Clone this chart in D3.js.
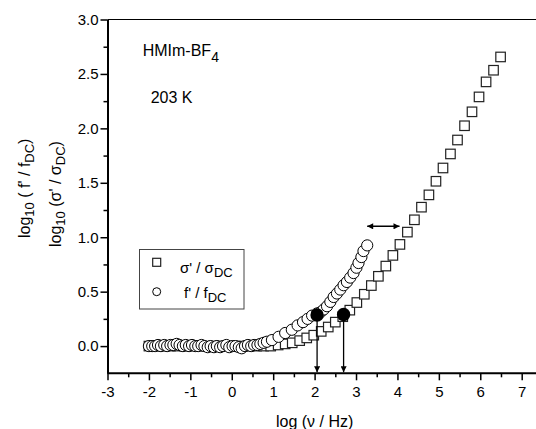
<!DOCTYPE html>
<html>
<head>
<meta charset="utf-8">
<script src="https://cdn.jsdelivr.net/npm/d3@7"></script>
<style>
body { margin: 0; background: #fff; }
svg { font-family: "Liberation Sans", Arial, sans-serif; }
</style>
</head>
<body>
<svg></svg>
<script>
// sigma' / sigma_DC  (squares)
var sigX = [-2.00, -1.83, -1.66, -1.48, -1.31, -1.14, -0.96, -0.79, -0.62, -0.44,
            -0.27, -0.10, 0.08, 0.25, 0.42, 0.60, 0.77, 0.94, 1.12, 1.29,
            1.46, 1.64, 1.81, 1.98, 2.16, 2.33, 2.50, 2.68, 2.85, 3.02,
            3.20, 3.37, 3.54, 3.72, 3.89, 4.06, 4.24, 4.41, 4.58, 4.76,
            4.93, 5.10, 5.28, 5.45, 5.62, 5.80, 5.97, 6.14, 6.32, 6.49];
var sigY = [0.00, 0.00, 0.00, 0.00, 0.00, 0.00, 0.00, 0.00, 0.00, 0.00,
            0.00, 0.00, 0.00, 0.00, 0.00, 0.00, 0.00, 0.00, 0.01, 0.02,
            0.03, 0.05, 0.075, 0.10, 0.135, 0.175, 0.22, 0.27, 0.33, 0.40,
            0.476, 0.556, 0.641, 0.735, 0.833, 0.934, 1.047, 1.160, 1.276, 1.389,
            1.514, 1.636, 1.765, 1.893, 2.024, 2.152, 2.289, 2.427, 2.534, 2.656];

// f' / f_DC  (circles)
var fX = [-2.00, -1.92, -1.85, -1.78, -1.71, -1.63, -1.56, -1.48, -1.41, -1.33,
          -1.26, -1.18, -1.11, -1.03, -0.96, -0.88, -0.81, -0.73, -0.66, -0.58,
          -0.51, -0.43, -0.36, -0.28, -0.21, -0.13, -0.06, 0.02, 0.09, 0.17,
          0.24, 0.32, 0.39, 0.47, 0.54, 0.62, 0.69, 0.77, 0.85, 0.97,
          1.13, 1.29, 1.45, 1.59, 1.72, 1.83, 1.94, 2.06, 2.14, 2.22,
          2.30, 2.38, 2.46, 2.54, 2.62, 2.70, 2.78, 2.86, 2.94, 3.01,
          3.06, 3.13, 3.18, 3.27];
var fY = [0.00, 0.00, 0.00, 0.01, 0.00, 0.01, 0.00, 0.01, 0.01, 0.02,
          0.01, 0.00, 0.01, 0.00, 0.01, 0.00, 0.00, 0.01, 0.00, -0.01,
          0.00, -0.01, 0.00, -0.01, 0.00, 0.01, -0.01, 0.00, 0.00, -0.01,
          -0.02, 0.00, 0.01, 0.00, 0.01, 0.01, 0.02, 0.03, 0.04, 0.055,
          0.085, 0.12, 0.15, 0.19, 0.22, 0.25, 0.28, 0.30, 0.31, 0.336,
          0.366, 0.406, 0.451, 0.483, 0.519, 0.559, 0.589, 0.629, 0.671, 0.72,
          0.763, 0.818, 0.873, 0.925];

// crossover points (filled) and their arrows
var dotX = [2.06, 2.70];
var dotY = [0.285, 0.29];
var spanX = [3.27, 4.05];
var spanY = 1.10;

var xTicks = [-3, -2, -1, 0, 1, 2, 3, 4, 5, 6, 7];
var xMinor = [-2.5, -1.5, -0.5, 0.5, 1.5, 2.5, 3.5, 4.5, 5.5, 6.5];
var yTicks = [0.0, 0.5, 1.0, 1.5, 2.0, 2.5, 3.0];
var yMinor = [0.25, 0.75, 1.25, 1.75, 2.25, 2.75];

var svgWidth = 536, svgHeight = 429;

var svg = d3.select("svg")
    .attr("width", svgWidth)
    .attr("height", svgHeight);

var xScale = d3.scaleLinear().domain([-3, 7]).range([107.5, 521.7]);
var xEnd = 540;
var yScale = d3.scaleLinear().domain([-0.25, 3.0]).range([373.3, 19.5]);

var defs = svg.append("defs");
defs.append("marker")
    .attr("id", "head")
    .attr("viewBox", "0 0 10 10")
    .attr("refX", 10).attr("refY", 5)
    .attr("markerWidth", 7).attr("markerHeight", 6)
    .attr("markerUnits", "userSpaceOnUse")
    .attr("orient", "auto-start-reverse")
    .append("path")
    .attr("d", "M0,0 L10,5 L0,10 Z")
    .attr("fill", "#000");
defs.append("marker")
    .attr("id", "head2")
    .attr("viewBox", "0 0 10 10")
    .attr("refX", 10).attr("refY", 5)
    .attr("markerWidth", 9).attr("markerHeight", 6)
    .attr("markerUnits", "userSpaceOnUse")
    .attr("orient", "auto-start-reverse")
    .append("path")
    .attr("d", "M0,0 L10,5 L0,10 Z")
    .attr("fill", "#000");

// top frame line
svg.append("line")
    .attr("x1", xScale(-3)).attr("x2", xEnd)
    .attr("y1", yScale(3.0)).attr("y2", yScale(3.0))
    .attr("stroke", "#000").attr("stroke-width", 1.2);

// axes
var x_axis = d3.axisBottom(xScale).tickValues(xTicks).tickSize(7).tickSizeOuter(0)
    .tickFormat(function(d) { return String(d); });
var gx = svg.append("g")
    .attr("transform", "translate(0," + yScale(-0.25) + ")")
    .call(x_axis);
gx.select(".domain").attr("d", "M" + xScale(-3) + ",0H" + xEnd).attr("stroke-width", 2);
gx.selectAll(".tick text").attr("font-size", 15).attr("dy", "0.9em").attr("fill", "#000");
gx.selectAll(".tick line").attr("stroke-width", 1.5);
svg.append("g")
    .attr("transform", "translate(0," + yScale(-0.25) + ")")
    .call(d3.axisBottom(xScale).tickValues(xMinor).tickSize(4).tickFormat(""))
    .call(function(g) { g.select(".domain").remove(); })
    .selectAll("line").attr("stroke-width", 1.5);

var y_axis = d3.axisLeft(yScale).tickValues(yTicks).tickSize(7).tickSizeOuter(0)
    .tickFormat(d3.format(".1f"));
var gy = svg.append("g")
    .attr("transform", "translate(" + xScale(-3) + ",0)")
    .call(y_axis);
gy.select(".domain").attr("stroke-width", 2);
gy.selectAll(".tick text").attr("font-size", 15).attr("x", -9).attr("fill", "#000");
gy.selectAll(".tick line").attr("stroke-width", 1.5);
svg.append("g")
    .attr("transform", "translate(" + xScale(-3) + ",0)")
    .call(d3.axisLeft(yScale).tickValues(yMinor).tickSize(4).tickFormat(""))
    .call(function(g) { g.select(".domain").remove(); })
    .selectAll("line").attr("stroke-width", 1.5);

// squares
var sq = 9.5;
svg.append("g").selectAll("rect")
    .data(d3.zip(sigX, sigY))
    .join("rect")
    .attr("x", function(d) { return xScale(d[0]) - sq / 2; })
    .attr("y", function(d) { return yScale(d[1]) - sq / 2; })
    .attr("width", sq).attr("height", sq)
    .attr("fill", "#fff").attr("stroke", "#222").attr("stroke-width", 1.2);

// circles
svg.append("g").selectAll("circle")
    .data(d3.zip(fX, fY))
    .join("circle")
    .attr("cx", function(d) { return xScale(d[0]); })
    .attr("cy", function(d) { return yScale(d[1]); })
    .attr("r", 5.6)
    .attr("fill", "#fff").attr("stroke", "#000").attr("stroke-width", 1);

// arrows down from the crossover points
svg.append("g").selectAll("line")
    .data(d3.zip(dotX, dotY))
    .join("line")
    .attr("x1", function(d) { return xScale(d[0]); })
    .attr("x2", function(d) { return xScale(d[0]); })
    .attr("y1", function(d) { return yScale(d[1]); })
    .attr("y2", yScale(-0.25) - 1)
    .attr("stroke", "#000").attr("stroke-width", 1.3)
    .attr("marker-end", "url(#head)");

svg.append("g").selectAll("circle")
    .data(d3.zip(dotX, dotY))
    .join("circle")
    .attr("cx", function(d) { return xScale(d[0]); })
    .attr("cy", function(d) { return yScale(d[1]); })
    .attr("r", 6.7)
    .attr("fill", "#000");

// horizontal double arrow
svg.append("line")
    .attr("x1", xScale(spanX[0])).attr("x2", xScale(spanX[1]))
    .attr("y1", yScale(spanY)).attr("y2", yScale(spanY))
    .attr("stroke", "#000").attr("stroke-width", 1.5)
    .attr("marker-start", "url(#head2)")
    .attr("marker-end", "url(#head2)");

// legend
var leg = svg.append("g");
leg.append("rect")
    .attr("x", 139.5).attr("y", 249.5).attr("width", 104.5).attr("height", 59.5)
    .attr("fill", "#fff").attr("stroke", "#444").attr("stroke-width", 1);
leg.append("rect")
    .attr("x", 156.7 - 4).attr("y", 262.3 - 4).attr("width", 8).attr("height", 8)
    .attr("fill", "#fff").attr("stroke", "#222").attr("stroke-width", 1.2);
leg.append("circle")
    .attr("cx", 156.7).attr("cy", 291.7).attr("r", 4)
    .attr("fill", "#fff").attr("stroke", "#000").attr("stroke-width", 1);
var t1 = leg.append("text").attr("x", 180).attr("y", 273).attr("font-size", 15);
t1.append("tspan").text("\u03C3' / \u03C3");
t1.append("tspan").attr("dy", 4).attr("font-size", 13).text("DC");
var t2 = leg.append("text").attr("x", 184).attr("y", 298).attr("font-size", 15);
t2.append("tspan").text("f' / f");
t2.append("tspan").attr("dy", 4).attr("font-size", 13).text("DC");

// annotations
var title = svg.append("text").attr("x", 142.7).attr("y", 55.5).attr("font-size", 16);
title.append("tspan").text("HMIm-BF");
title.append("tspan").attr("dy", 6).attr("font-size", 14).text("4");
svg.append("text").attr("x", 150.7).attr("y", 103.3).attr("font-size", 16).text("203 K");

// axis titles
svg.append("text")
    .attr("x", xScale(2)).attr("y", 427)
    .attr("text-anchor", "middle").attr("font-size", 16)
    .text("log (\u03BD / Hz)");

var yl1 = svg.append("text")
    .attr("transform", "translate(30,238) rotate(-90)")
    .attr("font-size", 16);
yl1.append("tspan").text("log");
yl1.append("tspan").attr("dy", 4).attr("font-size", 13).text("10");
yl1.append("tspan").attr("dy", -4).text(" ( f' / f");
yl1.append("tspan").attr("dy", 4).attr("font-size", 13).text("DC");
yl1.append("tspan").attr("dy", -4).text(")");

var yl2 = svg.append("text")
    .attr("transform", "translate(61,247) rotate(-90)")
    .attr("font-size", 16);
yl2.append("tspan").text("log");
yl2.append("tspan").attr("dy", 4).attr("font-size", 13).text("10");
yl2.append("tspan").attr("dy", -4).text(" (\u03C3' / \u03C3");
yl2.append("tspan").attr("dy", 4).attr("font-size", 13).text("DC");
yl2.append("tspan").attr("dy", -4).text(")");
</script>
</body>
</html>
